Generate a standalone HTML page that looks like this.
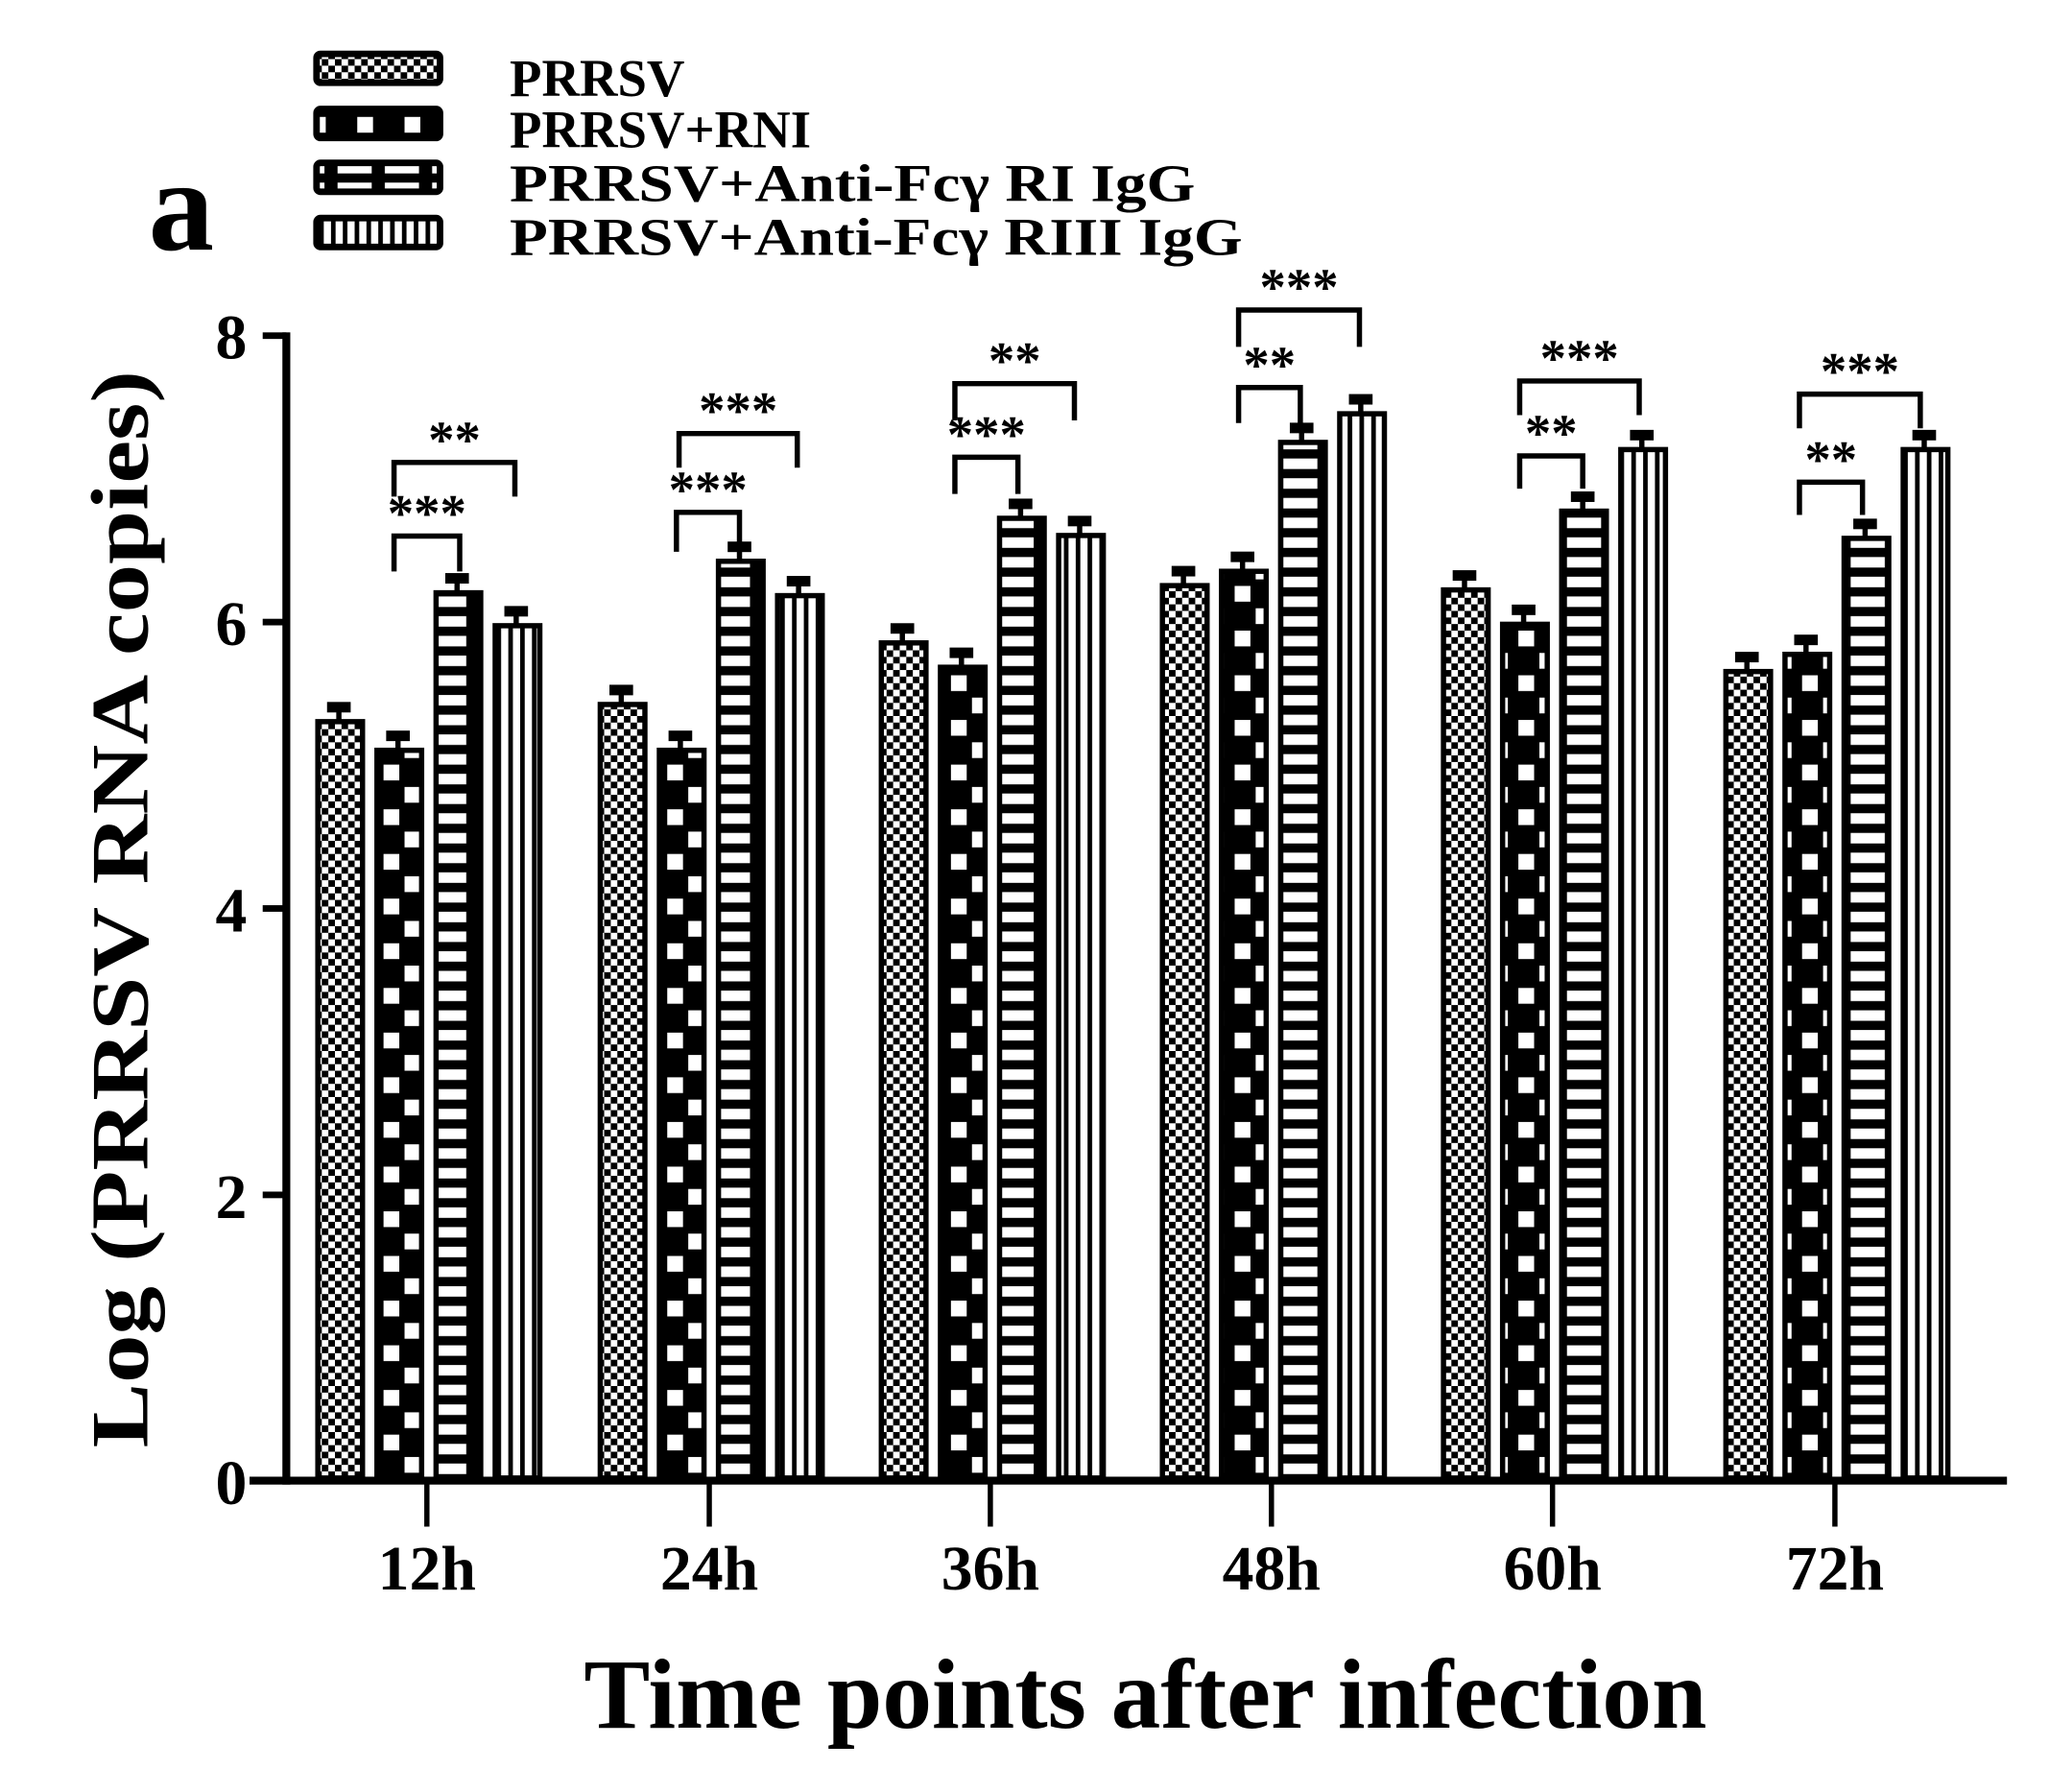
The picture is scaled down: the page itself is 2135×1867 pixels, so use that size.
<!DOCTYPE html>
<html><head><meta charset="utf-8"><style>html,body{margin:0;padding:0;background:#fff}svg{display:block}</style></head>
<body>
<svg width="2135" height="1867" viewBox="0 0 1560 1364" preserveAspectRatio="none" xmlns="http://www.w3.org/2000/svg" font-family="'Liberation Serif',serif" font-weight="bold">
<defs>
<pattern id="p1" width="10" height="10" patternUnits="userSpaceOnUse"><rect width="10" height="10" fill="#fff"/><rect width="5" height="5" fill="#000"/><rect x="5" y="5" width="5" height="5" fill="#000"/></pattern>
<pattern id="p2" width="36" height="34" patternUnits="userSpaceOnUse"><rect width="36" height="34" fill="#000"/><rect x="4" y="4" width="12" height="12" fill="#fff"/><rect x="20" y="21" width="12" height="12" fill="#fff"/></pattern>
<pattern id="p3" width="36" height="15" patternUnits="userSpaceOnUse"><rect width="36" height="15" fill="#000"/><rect x="5" y="4" width="26" height="8" fill="#fff"/></pattern>
<pattern id="p4" width="9" height="10" patternUnits="userSpaceOnUse"><rect width="9" height="10" fill="#fff"/><rect x="0" width="3.5" height="10" fill="#000"/></pattern>
</defs>
<rect width="1560" height="1364" fill="#fff"/>
<!-- legend -->
<g stroke="#000" stroke-width="5">
<rect x="241" y="41" width="94" height="22" rx="3" fill="url(#p1)"/>
<rect x="241" y="83" width="94" height="22" rx="3" fill="url(#p2)"/>
<rect x="241" y="124" width="94" height="22" rx="3" fill="url(#p3)"/>
<rect x="241" y="166" width="94" height="22" rx="3" fill="url(#p4)"/>
</g>
<g font-size="40">
<text x="388" y="73">PRRSV</text>
<text x="388" y="112">PRRSV+RNI</text>
<text x="388" y="153" textLength="522" lengthAdjust="spacingAndGlyphs">PRRSV+Anti-Fcγ  RI IgG</text>
<text x="388" y="194" textLength="558" lengthAdjust="spacingAndGlyphs">PRRSV+Anti-Fcγ  RIII IgG</text>
</g>
<text x="113" y="190" font-size="100">a</text>
<!-- axes -->
<rect x="215" y="253" width="6" height="877" fill="#000"/>
<rect x="190" y="1124" width="1338" height="6" fill="#000"/>
<g fill="#000">
<rect x="200" y="253" width="18" height="5"/><rect x="200" y="471" width="18" height="5"/><rect x="200" y="689" width="18" height="5"/><rect x="200" y="907" width="18" height="5"/>
</g>
<g font-size="48" text-anchor="end">
<text x="188" y="273">8</text><text x="188" y="491">6</text><text x="188" y="709">4</text><text x="188" y="927">2</text><text x="188" y="1145">0</text>
</g>
<text transform="translate(112,692) rotate(-90)" font-size="62" text-anchor="middle" textLength="820" lengthAdjust="spacingAndGlyphs">Log (PRRSV RNA copies)</text>
<text x="872" y="1315" font-size="76" text-anchor="middle" textLength="855" lengthAdjust="spacingAndGlyphs">Time points after infection</text>
<g id="bars" stroke="#000" stroke-width="4"></g>
<g id="ann" fill="none" stroke="#000" stroke-width="4"></g>
<g id="txt" font-size="40" text-anchor="middle"></g>
<script>
var ns="http://www.w3.org/2000/svg";
var C=[325,540,754,968,1182,1397],L=["12h","24h","36h","48h","60h","72h"];
var V=[[5.3,5.1,6.2,5.97],[5.42,5.1,6.42,6.18],[5.85,5.68,6.72,6.6],[6.25,6.35,7.25,7.45],[6.22,5.98,6.77,7.2],[5.65,5.77,6.58,7.2]];
var bars=document.getElementById('bars'),ann=document.getElementById('ann'),txt=document.getElementById('txt'),root=bars.ownerSVGElement;
function el(p,t,a){var e=document.createElementNS(ns,t);for(var k in a)e.setAttribute(k,a[k]);p.appendChild(e);return e;}
function Y(v){return 1127-109*v;}
for(var g=0;g<6;g++){
 for(var i=0;i<4;i++){var x=C[g]-85+45*i,y=Y(V[g][i]);
  el(bars,'line',{x1:x+18,y1:y,x2:x+18,y2:y-12});
  el(bars,'rect',{x:x+11,y:y-13,width:14,height:4,fill:'#000'});
  el(bars,'rect',{x:x+2,y:y,width:34,height:1125-y,fill:'url(#p'+(i+1)+')'});}
 el(root,'rect',{x:C[g]-2,y:1128,width:4,height:34,fill:'#000'});
 var t=el(txt,'text',{x:C[g],y:1210,'font-size':48});t.textContent=L[g];
}
var B=[[300,350,408,435,"***",300,392,352,378,"**"],[515,563,390,420,"***",517,607,330,356,"***"],[727,775,348,376,"***",727,818,292,320,"**"],[943,990,295,322,"**",943,1035,236,264,"***"],[1157,1205,347,372,"**",1157,1248,290,316,"***"],[1370,1418,367,392,"**",1370,1462,300,326,"***"]];
B.forEach(function(b){for(var k=0;k<2;k++){var o=k*5;
 el(ann,'polyline',{points:b[o]+','+b[o+3]+' '+b[o]+','+b[o+2]+' '+b[o+1]+','+b[o+2]+' '+b[o+1]+','+b[o+3]});
 var t=el(txt,'text',{x:(b[o]+b[o+1])/2,y:b[o+2]-4});t.textContent=b[o+4];}});
</script>
</svg>
</body></html>
